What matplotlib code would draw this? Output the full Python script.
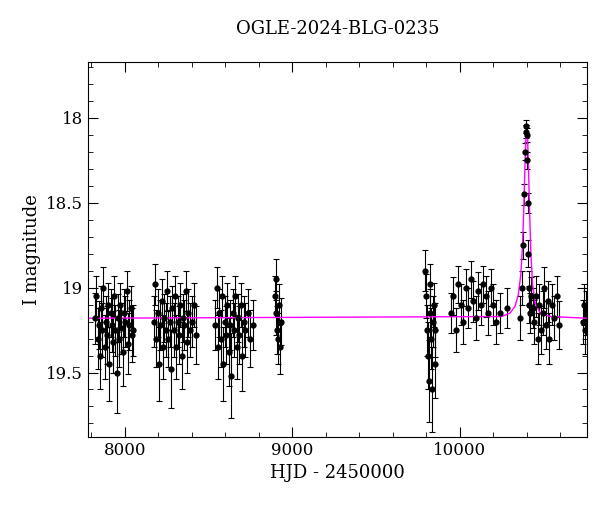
import matplotlib
matplotlib.use("Agg")
import matplotlib.pyplot as plt

title = "OGLE-2024-BLG-0235"
hjd = [7822,7830,7838,7845,7851,7858,7866,7872,7880,7887,7893,7900,7908,7915,7922,7930,7937,7944,7951,7959,7966,7973,7980,7988,7995,8002,8010,8018,8026,8034,8042,8050,
       8172,8180,8188,8196,8204,8212,8220,8228,8236,8244,8252,8260,8268,8276,8284,8292,8300,8308,8316,8324,8332,8340,8348,8356,8364,8372,8380,8390,8400,8412,8425,
       8540,8548,8556,8564,8572,8580,8588,8596,8604,8612,8620,8628,8636,8644,8652,8660,8668,8676,8684,8692,8700,8710,8720,8735,8750,8765,
       8895,8900,8905,8910,8915,8920,8925,8930,
       9795,9800,9805,9810,9815,9820,9825,9830,9835,9840,9845,9850,9855,
       9945,9960,9975,9990,10005,10020,10035,10050,10065,10080,10095,10110,10125,10140,10155,10170,10185,10200,10215,10240,10280,
       10360,10372,10380,10385,10390,10393,10396,10399,10402,10405,10408,10412,10416,10420,10428,10436,
       10445,10455,10465,10475,10485,10495,10505,10515,10525,10535,10550,10565,10580,10595,
       10735,10742,10750,10757]
mag = [19.18,19.05,19.30,19.22,19.40,19.12,19.25,19.00,19.35,19.20,19.28,19.10,19.45,19.15,19.22,19.32,19.05,19.25,19.50,19.18,19.30,19.10,19.24,19.38,19.15,19.20,19.02,19.33,19.22,19.12,19.28,19.25,
       19.20,18.98,19.30,19.15,19.45,19.22,19.08,19.35,19.18,19.25,19.02,19.30,19.20,19.48,19.12,19.25,19.05,19.35,19.20,19.28,19.10,19.40,19.18,19.22,19.02,19.32,19.15,19.25,19.20,19.10,19.28,
       19.22,19.00,19.35,19.15,19.30,19.05,19.45,19.20,19.28,19.10,19.38,19.22,19.52,19.15,19.25,19.05,19.35,19.18,19.28,19.10,19.40,19.20,19.25,19.15,19.30,19.22,
       19.05,18.95,19.15,19.25,19.30,19.10,19.35,19.20,
       18.90,19.05,19.25,19.40,19.55,19.15,18.98,19.30,19.60,19.20,19.10,19.45,19.25,
       19.15,19.05,19.25,18.98,19.10,19.20,19.00,19.12,18.95,19.08,19.18,19.02,19.10,18.98,19.05,19.15,19.00,19.10,19.20,19.15,19.12,
       19.18,19.00,18.75,18.45,18.20,18.08,18.05,18.10,18.25,18.50,18.80,19.00,19.10,19.15,19.05,19.12,
       19.20,19.05,19.30,19.10,19.25,19.15,19.00,19.22,19.08,19.30,19.10,19.18,19.05,19.22,
       19.20,19.10,19.25,19.15]
err = [0.15,0.12,0.18,0.14,0.20,0.13,0.16,0.12,0.19,0.15,0.17,0.13,0.22,0.14,0.16,0.18,0.12,0.15,0.24,0.14,0.17,0.13,0.15,0.20,0.14,0.15,0.12,0.18,0.15,0.13,0.16,0.15,
       0.15,0.12,0.17,0.14,0.22,0.15,0.13,0.19,0.14,0.16,0.12,0.17,0.15,0.23,0.13,0.16,0.12,0.19,0.15,0.17,0.13,0.20,0.14,0.15,0.12,0.18,0.14,0.16,0.15,0.13,0.17,
       0.15,0.12,0.19,0.14,0.17,0.12,0.22,0.15,0.17,0.13,0.20,0.15,0.25,0.14,0.16,0.12,0.19,0.14,0.17,0.13,0.21,0.15,0.16,0.14,0.17,0.15,
       0.12,0.12,0.13,0.14,0.15,0.12,0.16,0.14,
       0.12,0.13,0.15,0.20,0.24,0.14,0.12,0.18,0.25,0.15,0.13,0.20,0.16,
       0.12,0.11,0.13,0.11,0.12,0.13,0.11,0.12,0.11,0.12,0.13,0.11,0.12,0.11,0.12,0.13,0.11,0.12,0.13,0.12,0.12,
       0.13,0.10,0.08,0.06,0.05,0.04,0.04,0.04,0.05,0.06,0.08,0.10,0.11,0.12,0.11,0.12,
       0.13,0.12,0.15,0.12,0.14,0.13,0.12,0.14,0.12,0.15,0.12,0.13,0.12,0.14,
       0.13,0.12,0.14,0.13]
model_t = [7780,10250,10300,10330,10350,10365,10375,10383,10390,10395,10400,10405,10410,10417,10425,10435,10450,10480,10540,10760]
model_m = [19.18,19.17,19.15,19.11,19.04,18.92,18.75,18.52,18.27,18.12,18.08,18.12,18.27,18.55,18.80,18.98,19.09,19.15,19.17,19.18]

plt.rcParams["font.family"] = "DejaVu Serif"
fig = plt.figure(figsize=(6.0, 5.12), dpi=100)
ax = fig.add_axes([88/600, 1-437/512, 499/600, 375/512])
ax.errorbar(hjd, mag, yerr=err, fmt="o", ms=3.5, color="black", ecolor="black",
            elinewidth=0.8, capsize=2, capthick=0.8)
ax.plot(model_t, model_m, color="magenta", lw=1)
ax.set_xlim(7780, 10760)
ax.set_ylim(19.88, 17.67)
ax.set_xticks([8000, 9000, 10000])
ax.set_yticks([18, 18.5, 19, 19.5])
ax.set_yticklabels(["18", "18.5", "19", "19.5"])
ax.minorticks_on()
ax.tick_params(which="both", direction="in", top=True, right=True, labelsize=12)
ax.tick_params(which="major", length=7)
ax.tick_params(which="minor", length=3.5)
ax.set_xlabel("HJD - 2450000", fontsize=13)
ax.set_ylabel("I magnitude", fontsize=13)
ax.set_title(title, fontsize=13, pad=20)
fig.savefig("out.png", dpi=100)
